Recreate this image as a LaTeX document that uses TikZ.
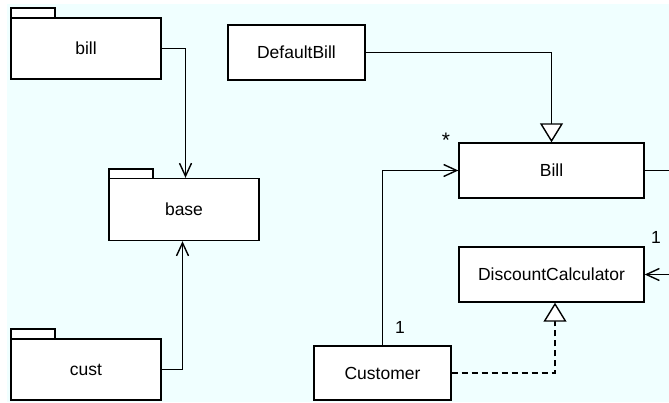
\documentclass[tikz,border=0pt]{standalone}
\usepackage{fontspec}
\setmainfont{Liberation Sans}
\usetikzlibrary{arrows.meta}
\definecolor{canvas}{HTML}{F0FFFF}
\begin{document}
\begin{tikzpicture}[x=1pt,y=-1pt,
  every node/.style={font=\fontsize{17.5}{20}\selectfont},
  umlbox/.style={draw=black, fill=white, line width=1.4pt, inner sep=0pt},
  tab/.style={draw=black, fill=white, line width=1.4pt},
  link/.style={line width=1.4pt},
  navi/.style={link, -{Straight Barb[length=13pt,width=12pt,line width=1.4pt]}},
  inherit/.style={link, -{Triangle[open,length=19pt,width=23pt,line width=1.4pt,fill=white]}},
  realize/.style={inherit, dash pattern=on 6pt off 4pt},
  mult/.style={inner sep=0pt}]
\useasboundingbox (0,0) rectangle (669,402);
\fill[canvas] (7,4) rectangle (669,402);

% packages: tab first, then the body
\draw[tab] (11,8) rectangle (55,18.5);
\node[umlbox, minimum width=150pt, minimum height=61pt] (bill) at (86,48.5) {bill};
\draw[tab] (109,169) rectangle (153,178.5);
\node[umlbox, minimum width=150pt, minimum height=62pt] (base) at (184,209.5) {base};
\draw[tab] (11,329) rectangle (55,339.5);
\node[umlbox, minimum width=150pt, minimum height=61pt] (cust) at (86,369.5) {cust};

% classes
\node[umlbox, minimum width=137pt, minimum height=55pt] (defbill) at (296.5,52.5) {DefaultBill};
\node[umlbox, minimum width=185pt, minimum height=55pt] (billc) at (551.5,170.5) {Bill};
\node[umlbox, minimum width=185pt, minimum height=55pt] (disc) at (551.5,274.5) {DiscountCalculator};
\node[umlbox, minimum width=137pt, minimum height=54pt] (customer) at (382.5,373) {Customer};

% loose ends at the right border
\coordinate (billout) at (669,170.5);
\coordinate (discin) at (669,274.5);

% package dependencies
\draw[navi] (bill.east) -| ([xshift=1.5pt]base.north);
\draw[navi] (cust.east) -| ([xshift=-1.5pt]base.south);

% class relations
\draw[inherit] (defbill.east) -| (billc.north);
\draw[navi] (customer.north) |- (billc.west);
\draw[realize] (customer.east) -| ([xshift=3.5pt]disc.south);
\draw[link] (billc.east) -- (billout);
\draw[navi] (discin) -- (disc.east);

% multiplicities
\node[mult, font=\fontsize{21}{22}\selectfont] (mstar) at (446,140) {*};
\node[mult] (mcust) at (400,327) {1};
\node[mult] (mdisc) at (656,237) {1};
\end{tikzpicture}
\end{document}
